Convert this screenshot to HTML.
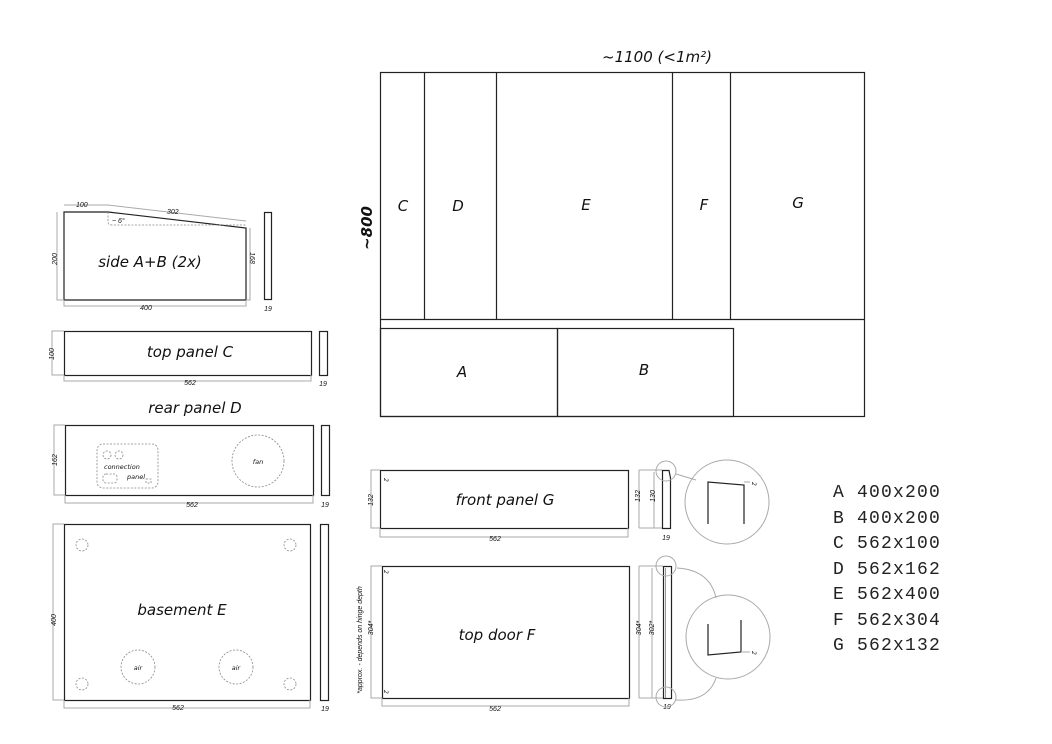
<!DOCTYPE html>
<html><head><meta charset="utf-8"><style>
body{margin:0;background:#fff}
svg{display:block}
text{font-family:"DejaVu Sans","Liberation Sans",sans-serif;font-style:italic;fill:#111}
.d{stroke:#aaa;stroke-width:1;fill:none}
.o{stroke:#222;stroke-width:1.2;fill:none}
.t{font-size:7px;font-family:"Liberation Sans",sans-serif}
.dot{stroke:#888;stroke-width:0.8;fill:none;stroke-dasharray:2 1.5}
.m{font-family:"Liberation Mono",monospace;font-style:normal;font-size:18px;letter-spacing:1.2px;fill:#222}
</style></head><body>
<svg width="1052" height="744" viewBox="0 0 1052 744">
<text x="657" y="62" font-size="15" text-anchor="middle">~1100 (&lt;1m²)</text>
<text x="0" y="0" font-size="15" font-weight="bold" transform="translate(372,228) rotate(-90)" text-anchor="middle">~800</text>
<rect x="380.5" y="72.5" width="484" height="344" class="o"/>
<line x1="380" y1="319.5" x2="864" y2="319.5" class="o"/>
<line x1="424.5" y1="72" x2="424.5" y2="319" class="o"/>
<line x1="496.5" y1="72" x2="496.5" y2="319" class="o"/>
<line x1="672.5" y1="72" x2="672.5" y2="319" class="o"/>
<line x1="730.5" y1="72" x2="730.5" y2="319" class="o"/>
<rect x="380.5" y="328.5" width="177" height="88" class="o"/>
<rect x="557.5" y="328.5" width="176" height="88" class="o"/>
<g font-size="15">
<text x="403" y="211" text-anchor="middle">C</text>
<text x="458" y="211" text-anchor="middle">D</text>
<text x="586" y="210" text-anchor="middle">E</text>
<text x="704" y="210" text-anchor="middle">F</text>
<text x="798" y="208" text-anchor="middle">G</text>
<text x="462" y="377" text-anchor="middle">A</text>
<text x="644" y="375" text-anchor="middle">B</text>
</g>

<path d="M64 212H108L246 228V300H64Z" class="o"/>
<path d="M64 205H108M108 205L246 221M57 212V300H64M250 228V300H246M64 300V306H246V300" class="d"/>
<path d="M108 212V222Q108 225 112 225H246" class="dot"/>
<rect x="264.5" y="212.5" width="7" height="87" class="o"/>
<text x="76" y="207" class="t">100</text>
<text x="167" y="214" class="t">302</text>
<text x="112" y="223" class="t">~ 6°</text>
<text x="150" y="267" font-size="15" text-anchor="middle">side A+B (2x)</text>
<text class="t" transform="translate(57,259) rotate(-90)" text-anchor="middle">200</text>
<text class="t" transform="translate(250,258) rotate(90)" text-anchor="middle">168</text>
<text x="146" y="310" class="t" text-anchor="middle">400</text>
<text x="268" y="311" class="t" text-anchor="middle">19</text>

<rect x="64.5" y="331.5" width="247" height="44" class="o"/>
<path d="M64 331H52V375H64M64 375V381H311V375" class="d"/>
<rect x="319.5" y="331.5" width="8" height="44" class="o"/>
<text x="190" y="357" font-size="15" text-anchor="middle">top panel C</text>
<text class="t" transform="translate(54,354) rotate(-90)" text-anchor="middle">100</text>
<text x="190" y="385" class="t" text-anchor="middle">562</text>
<text x="323" y="386" class="t" text-anchor="middle">19</text>

<text x="195" y="413" font-size="15" text-anchor="middle">rear panel D</text>
<rect x="65.5" y="425.5" width="248" height="70" class="o"/>
<path d="M65 425H54V495H65M65 495V503H313V495" class="d"/>
<rect x="321.5" y="425.5" width="8" height="70" class="o"/>
<rect x="97" y="444" width="61" height="44" rx="6" class="dot"/>
<circle cx="107" cy="455" r="4" class="dot"/><circle cx="119" cy="455" r="4" class="dot"/>
<rect x="103" y="474" width="14" height="9" rx="3" class="dot"/>
<rect x="146" y="479" width="5" height="4" class="dot"/>
<text x="104" y="469" font-size="6.5">connection</text>
<text x="127" y="479" font-size="6.5">panel</text>
<circle cx="258" cy="461" r="26" class="dot"/>
<text x="258" y="464" font-size="6.5" text-anchor="middle">fan</text>
<text class="t" transform="translate(57,460) rotate(-90)" text-anchor="middle">162</text>
<text x="192" y="507" class="t" text-anchor="middle">562</text>
<text x="325" y="507" class="t" text-anchor="middle">19</text>

<rect x="64.5" y="524.5" width="246" height="176" class="o"/>
<path d="M64 524H53V700H64M64 700V708H310V700" class="d"/>
<rect x="320.5" y="524.5" width="8" height="176" class="o"/>
<circle cx="82" cy="545" r="6" class="dot"/><circle cx="290" cy="545" r="6" class="dot"/>
<circle cx="82" cy="684" r="6" class="dot"/><circle cx="290" cy="684" r="6" class="dot"/>
<circle cx="138" cy="667" r="17" class="dot"/><circle cx="236" cy="667" r="17" class="dot"/>
<text x="138" y="670" font-size="6.5" text-anchor="middle">air</text>
<text x="236" y="670" font-size="6.5" text-anchor="middle">air</text>
<text x="182" y="615" font-size="15" text-anchor="middle">basement E</text>
<text class="t" transform="translate(56,620) rotate(-90)" text-anchor="middle">400</text>
<text x="178" y="710" class="t" text-anchor="middle">562</text>
<text x="325" y="711" class="t" text-anchor="middle">19</text>

<rect x="380.5" y="470.5" width="248" height="58" class="o"/>
<path d="M380 470H371V528H380M380 528V537H628V528" class="d"/>
<text x="386" y="480" font-size="6" transform="rotate(90 386 478)">2</text>
<text x="505" y="505" font-size="15" text-anchor="middle">front panel G</text>
<text class="t" transform="translate(373,500) rotate(-90)" text-anchor="middle">132</text>
<text x="495" y="541" class="t" text-anchor="middle">562</text>
<path d="M639 470H662M639 528H662M639 470V528M654 472V528" class="d"/>
<path d="M662.5 470.5H669L670.5 478V528.5H662.5Z" class="o"/>
<text class="t" transform="translate(640,496) rotate(-90)" text-anchor="middle">132</text>
<text class="t" transform="translate(655,496) rotate(-90)" text-anchor="middle">130</text>
<text x="666" y="540" class="t" text-anchor="middle">19</text>
<circle cx="666" cy="471" r="10" class="d" stroke="#bbb"/>
<line x1="676" y1="474" x2="696" y2="480" class="d"/>
<circle cx="727" cy="502" r="42" class="d" stroke="#bbb"/>
<path d="M708 524V482L744 485V524" class="o"/>
<line x1="744" y1="482" x2="750" y2="482" class="d"/>
<text x="752" y="482" font-size="6" transform="rotate(90 752 482)">2</text>

<rect x="382.5" y="566.5" width="247" height="132" class="o"/>
<path d="M382 566H371V698H382M382 698V706H629V698" class="d"/>
<text x="386" y="572" font-size="6" transform="rotate(90 386 570)">2</text>
<text x="386" y="692" font-size="6" transform="rotate(90 386 690)">2</text>
<text x="497" y="640" font-size="15" text-anchor="middle">top door F</text>
<text class="t" transform="translate(373,628) rotate(-90)" text-anchor="middle">304*</text>
<text class="t" font-size="6.5" transform="translate(362,640) rotate(-90)" text-anchor="middle">*approx. - depends on hinge depth</text>
<text x="495" y="711" class="t" text-anchor="middle">562</text>
<path d="M639 566H663M639 698H663M639 566V698M652 568V698" class="d"/>
<rect x="663.5" y="566.5" width="8" height="132" class="o"/>
<line x1="665.5" y1="568" x2="665.5" y2="698" stroke="#999"/>
<text class="t" transform="translate(641,628) rotate(-90)" text-anchor="middle">304*</text>
<text class="t" transform="translate(654,628) rotate(-90)" text-anchor="middle">302*</text>
<text x="667" y="709" class="t" text-anchor="middle">19</text>
<circle cx="666" cy="566" r="10" class="d" stroke="#bbb"/>
<circle cx="666" cy="697" r="10" class="d" stroke="#bbb"/>
<path d="M677 568Q710 570 716 598" class="d"/>
<path d="M676 700Q708 702 716 678" class="d"/>
<circle cx="728" cy="637" r="42" class="d" stroke="#bbb"/>
<path d="M708 624V655L741 652V620" class="o"/>
<line x1="741" y1="652" x2="750" y2="652" class="d"/>
<text x="752" y="651" font-size="6" transform="rotate(90 752 651)">2</text>

<text x="833" y="497" class="m">A 400x200</text>
<text x="833" y="523" class="m">B 400x200</text>
<text x="833" y="548" class="m">C 562x100</text>
<text x="833" y="574" class="m">D 562x162</text>
<text x="833" y="599" class="m">E 562x400</text>
<text x="833" y="625" class="m">F 562x304</text>
<text x="833" y="650" class="m">G 562x132</text>
</svg>
</body></html>
